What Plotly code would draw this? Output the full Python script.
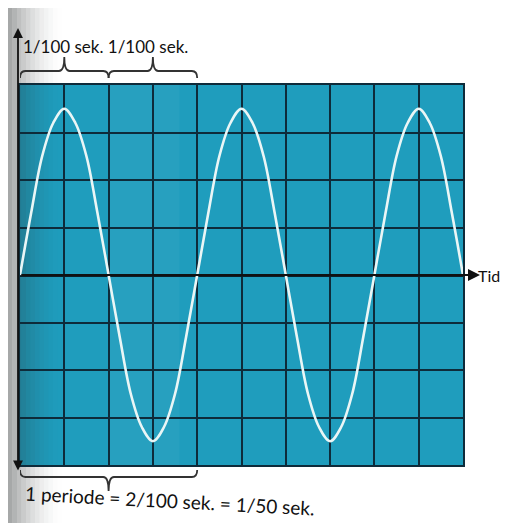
import plotly.graph_objects as go

# time in ms (each grid column = 5 ms, 2 columns = 1/100 sek.)
t_ms = [0, 1.25, 2.5, 3.75, 5, 6.25, 7.5, 8.75, 10, 11.25, 12.5, 13.75, 15, 16.25, 17.5, 18.75,
        20, 21.25, 22.5, 23.75, 25, 26.25, 27.5, 28.75, 30, 31.25, 32.5, 33.75, 35, 36.25, 37.5, 38.75,
        40, 41.25, 42.5, 43.75, 45, 46.25, 47.5, 48.75, 50]
volt = [0, 1.3, 2.5, 3.2, 3.5, 3.2, 2.5, 1.3, 0, -1.3, -2.5, -3.2, -3.5, -3.2, -2.5, -1.3,
        0, 1.3, 2.5, 3.2, 3.5, 3.2, 2.5, 1.3, 0, -1.3, -2.5, -3.2, -3.5, -3.2, -2.5, -1.3,
        0, 1.3, 2.5, 3.2, 3.5, 3.2, 2.5, 1.3, 0]

top_label = "1/100 sek. 1/100 sek."
bottom_label = "1 periode = 2/100 sek. = 1/50 sek."
axis_label = "Tid"

# page body has an 8px margin: figure sized so the page fits the 509x531 window
OFF = 8
W, H = 493, 515
L, R, T, B = 12, 38, 77, 58
PW, PH = W - L - R, H - T - B


def px(s):
    return ((s - OFF) - L) / PW


def py(s):
    return (H - B - (s - OFF)) / PH


TEAL = "#1f9dbd"
GRID = "#0e2b3a"

fig = go.Figure()
fig.add_trace(go.Scatter(x=t_ms, y=volt, mode="lines",
                         line=dict(color="#eaf6f6", width=2.6, shape="spline", smoothing=1.0),
                         hoverinfo="skip", showlegend=False))

shapes = []
# scanner shadow on left edge
n = 12
for i in range(n):
    x0 = OFF + i * 4.5
    op = 0.42 * (1 - i / n) ** 1.8
    shapes.append(dict(type="rect", xref="paper", yref="paper", x0=px(x0), x1=px(x0 + 4.5),
                       y0=py(OFF + H), y1=py(OFF), fillcolor="#2a3030", opacity=op, line_width=0,
                       layer="below"))
# slight light band
shapes.append(dict(type="rect", xref="x", yref="paper", x0=10, x1=18, y0=0, y1=1,
                   fillcolor="#ffffff", opacity=0.04, line_width=0, layer="below"))


def brace(x0, x1, yb, dy, color="#333"):
    xm = (x0 + x1) / 2
    yl = yb
    yt = yb + 2 * dy / PH
    path = (f"M {x0},{yb - dy/PH} Q {x0},{yl} {x0 + 0.6},{yl} "
            f"L {xm - 0.6},{yl} Q {xm},{yl} {xm},{yt} Q {xm},{yl} {xm + 0.6},{yl} "
            f"L {x1 - 0.6},{yl} Q {x1},{yl} {x1},{yb - dy/PH}")
    return dict(type="path", xref="x", yref="paper", path=path,
                line=dict(color=color, width=1.8))


shapes.append(brace(0, 10, py(71), 7))
shapes.append(brace(10, 20, py(71), 7))
shapes.append(brace(0, 20, py(477), -7))

mid_s = OFF + H - B - PH / 2
annotations = [
    dict(xref="paper", yref="paper", x=px(18), y=py(28), ax=0, ay=444, axref="pixel", ayref="pixel",
         showarrow=True, arrowhead=2, arrowsize=1.1, arrowwidth=1.8, arrowcolor="#111",
         arrowside="end+start", text=""),
    dict(xref="paper", yref="paper", x=px(480), y=py(mid_s), ax=-460, ay=0,
         axref="pixel", ayref="pixel", showarrow=True, arrowhead=2, arrowsize=1.2,
         arrowwidth=2, arrowcolor="#111", text=""),
    dict(xref="paper", yref="paper", x=px(501), y=py(mid_s), xanchor="right", yanchor="middle",
         showarrow=False, text=axis_label, borderpad=0,
         font=dict(family="Lato", size=16, color="#111")),
    dict(xref="paper", yref="paper", x=px(21), y=py(47), xanchor="left", yanchor="middle",
         showarrow=False, text=top_label, font=dict(family="Lato", size=17, color="#111")),
    dict(xref="paper", yref="paper", x=px(170), y=py(500), xanchor="center", yanchor="middle",
         showarrow=False, text=bottom_label, textangle=3.0, borderpad=0,
         font=dict(family="Lato", size=19, color="#111")),
]

fig.update_layout(
    width=W, height=H,
    margin=dict(l=L, r=R, t=T, b=B),
    paper_bgcolor="white", plot_bgcolor=TEAL,
    xaxis=dict(range=[0, 50], dtick=5, showgrid=True, gridcolor=GRID, gridwidth=2,
               zeroline=False, showticklabels=False, ticks="",
               showline=True, linecolor=GRID, linewidth=2, mirror=True, fixedrange=True),
    yaxis=dict(range=[-4, 4], dtick=1, showgrid=True, gridcolor=GRID, gridwidth=2,
               zeroline=True, zerolinecolor="#0a1e28", zerolinewidth=2.5,
               showticklabels=False, ticks="",
               showline=True, linecolor=GRID, linewidth=2, mirror=True, fixedrange=True),
    shapes=shapes, annotations=annotations, showlegend=False,
)

fig.write_html("out.html")
